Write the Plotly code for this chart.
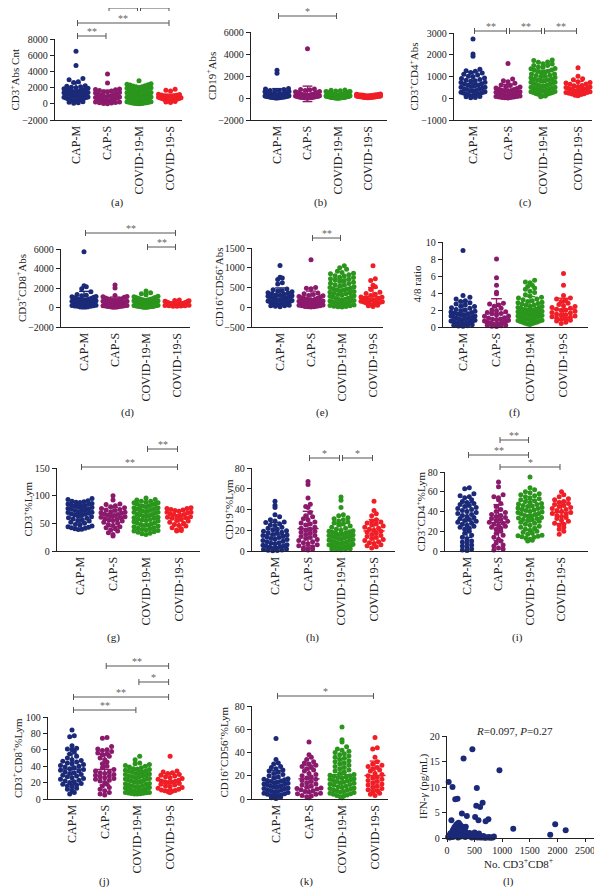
import statistics
import plotly.graph_objects as go

W, H = 602, 889          # page (screenshot) size
OFF = 8                  # browser body margin in front of the plot div
FW, FH = W - OFF, H - OFF
FONT = "Liberation Serif"

groups = ["CAP-M", "CAP-S", "COVID-19-M", "COVID-19-S"]
colors = ["#1b2a78", "#8c1a6c", "#2b961c", "#f01e26"]

# ---- data (one list per group) ----
a_capm = [6480, 4730, 3110, 2980, 2720, 2630, 2240, 2160, 2110, 2030, 1990, 1920, 1860, 1810, 1740, 1700, 1660,
          1590, 1550, 1480, 1460, 1390, 1350, 1310, 1240, 1220, 1170, 1120, 1080, 1030, 990, 940, 910, 850, 820,
          770, 720, 690, 630, 600, 540, 510, 450, 420, 360, 310, 260, 200, 140, 60]
a_caps = [3690, 2570, 1830, 1760, 1720, 1630, 1590, 1500, 1450, 1380, 1320, 1250, 1200, 1140, 1070, 1030, 960, 940,
          870, 840, 780, 750, 690, 670, 600, 580, 520, 490, 450, 400, 370, 310, 290, 230, 210, 160, 130, 90, 50, 20]
a_covm = [2860, 2470, 2420, 2340, 2310, 2230, 2200, 2120, 2090, 2010, 1980, 1920, 1890, 1830, 1800, 1740, 1710, 1650,
          1620, 1560, 1540, 1480, 1450, 1390, 1370, 1310, 1290, 1230, 1210, 1150, 1130, 1070, 1050, 990, 970, 910,
          890, 840, 820, 760, 740, 690, 670, 610, 600, 540, 520, 470, 450, 400, 380, 330, 310, 260, 250, 200, 190,
          140, 130, 90, 80, 50, 40, 20, 10]
a_covs = [1810, 1660, 1590, 1260, 1190, 1160, 1090, 1060, 990, 970, 910, 890, 830, 810, 760, 740, 690, 670, 620, 610,
          550, 540, 490, 480, 430, 420, 370, 360, 300, 280, 210, 150]

b_capm = [2520, 2260, 860, 810, 780, 690, 650, 630, 580, 560, 520, 510, 470, 460, 430, 420, 390, 380, 355, 340, 330,
          310, 300, 280, 275, 250, 245, 225, 215, 200, 190, 170, 160, 150, 135, 125, 110, 100, 90, 80, 70, 65, 55, 45,
          40, 30, 25, 15, 10, 5]
b_caps = [4470, 820, 770, 740, 680, 600, 570, 510, 490, 450, 430, 400, 360, 350, 320, 310, 280, 270, 240, 230, 210,
          200, 180, 170, 150, 140, 120, 110, 95, 85, 70, 65, 50, 45, 35, 30, 20, 15, 10, 5]
b_covm = [720, 700, 660, 640, 600, 590, 560, 540, 510, 500, 470, 460, 440, 430, 400, 390, 370, 360, 350, 330, 320, 300,
          295, 280, 270, 255, 250, 230, 225, 210, 200, 190, 180, 170, 165, 150, 145, 135, 130, 120, 110, 105, 100, 90,
          85, 75, 70, 65, 60, 50, 45, 40, 35, 30, 25, 20, 18, 15, 12, 10, 8, 6, 4, 3, 2]
b_covs = [360, 340, 325, 300, 290, 270, 260, 240, 230, 215, 210, 190, 185, 170, 160, 150, 145, 130, 125, 110, 105, 95,
          90, 80, 70, 65, 55, 50, 40, 35, 25, 20]

c_capm = [2720, 2040, 1930, 1330, 1270, 1240, 1180, 1160, 1100, 1070, 1010, 990, 930, 910, 860, 830, 800, 780, 730,
          720, 670, 660, 610, 600, 560, 540, 510, 500, 460, 440, 410, 400, 360, 350, 320, 300, 280, 260, 240, 220,
          200, 190, 160, 150, 120, 110, 80, 70, 40, 20]
c_caps = [1600, 880, 800, 760, 690, 610, 590, 530, 520, 470, 450, 410, 400, 370, 360, 330, 320, 300, 280, 275, 250,
          240, 220, 215, 190, 180, 160, 155, 130, 125, 110, 100, 85, 80, 60, 55, 40, 30, 20, 10]
c_covm = [1760, 1730, 1670, 1650, 1590, 1570, 1510, 1500, 1440, 1430, 1370, 1360, 1300, 1290, 1240, 1230, 1180, 1170,
          1120, 1110, 1060, 1050, 1000, 990, 950, 940, 890, 880, 840, 830, 790, 780, 740, 730, 690, 680, 640, 630,
          600, 590, 550, 540, 510, 500, 470, 460, 430, 420, 390, 380, 350, 340, 310, 300, 270, 260, 230, 220, 190,
          180, 150, 140, 110, 100, 70]
c_covs = [1400, 1010, 900, 850, 760, 720, 700, 650, 640, 590, 580, 530, 520, 490, 470, 450, 430, 410, 390, 370, 360,
          330, 320, 300, 270, 260, 230, 210, 190, 170, 140, 110]

d_capm = [5720, 2230, 2120, 1920, 1620, 1330, 1250, 1210, 1140, 1110, 1040, 1010, 950, 930, 870, 850, 800, 780, 740,
          710, 690, 650, 630, 590, 570, 550, 510, 500, 460, 450, 420, 400, 380, 360, 340, 330, 300, 280, 270, 240,
          230, 200, 190, 160, 140, 120, 100, 80, 60, 40]
d_caps = [2320, 2000, 1220, 1140, 1100, 1040, 980, 910, 880, 810, 790, 730, 710, 650, 630, 590, 570, 520, 510, 460,
          450, 400, 390, 350, 340, 300, 290, 250, 240, 210, 190, 170, 150, 130, 110, 90, 70, 50, 35, 20]
d_covm = [1680, 1520, 1420, 1300, 1150, 1110, 1060, 1020, 990, 950, 910, 890, 850, 830, 790, 770, 740, 730, 700, 690,
          660, 650, 620, 610, 580, 570, 540, 530, 510, 500, 480, 470, 450, 440, 420, 410, 390, 380, 360, 350, 330,
          320, 300, 290, 270, 260, 240, 230, 210, 200, 180, 170, 150, 140, 120, 110, 100, 90, 75, 65, 55, 45, 35, 25, 15]
d_covs = [760, 720, 700, 650, 630, 580, 560, 520, 510, 480, 470, 440, 430, 400, 390, 370, 360, 340, 330, 310, 300, 280,
          270, 250, 240, 220, 210, 190, 180, 160, 140, 120]

e_capm = [1060, 760, 740, 700, 620, 590, 460, 440, 420, 410, 390, 370, 360, 340, 330, 310, 305, 290, 280, 275, 260,
          250, 245, 230, 220, 215, 200, 195, 185, 180, 170, 160, 155, 145, 140, 130, 120, 115, 105, 100, 90, 80, 75,
          65, 60, 50, 40, 35, 25, 15]
e_caps = [1200, 500, 480, 470, 360, 340, 325, 300, 290, 270, 260, 240, 230, 220, 205, 195, 180, 175, 160, 155, 140,
          135, 125, 120, 110, 105, 95, 90, 80, 75, 65, 55, 50, 40, 35, 25, 20, 15, 10, 5]
e_covm = [1050, 1000, 960, 910, 880, 860, 850, 820, 800, 790, 760, 750, 720, 710, 690, 670, 650, 630, 610, 600, 570,
          560, 530, 520, 500, 490, 470, 460, 440, 430, 410, 400, 380, 370, 350, 340, 320, 310, 290, 280, 260, 250,
          230, 220, 200, 195, 180, 170, 160, 150, 135, 125, 115, 105, 95, 85, 75, 65, 55, 45, 35, 25, 18, 10, 5]
e_covs = [1050, 720, 680, 560, 520, 450, 380, 350, 330, 300, 290, 260, 250, 230, 225, 210, 195, 180, 175, 160, 150,
          140, 130, 120, 105, 95, 85, 75, 60, 50, 35, 20]

f_capm = [9.0, 3.7, 3.5, 3.3, 3.1, 3.0, 2.85, 2.7, 2.6, 2.45, 2.4, 2.25, 2.2, 2.05, 2.0, 1.9, 1.85, 1.75, 1.7, 1.65,
          1.55, 1.5, 1.45, 1.4, 1.3, 1.28, 1.2, 1.15, 1.1, 1.05, 1.0, 0.95, 0.9, 0.85, 0.8, 0.72, 0.7, 0.65, 0.6,
          0.52, 0.5, 0.45, 0.4, 0.35, 0.3, 0.26, 0.2, 0.15, 0.12, 0.08]
f_caps = [8.0, 5.8, 4.9, 4.1, 3.9, 2.8, 2.7, 2.6, 2.45, 2.2, 2.0, 1.9, 1.8, 1.7, 1.6, 1.55, 1.4, 1.3, 1.25, 1.1, 1.05,
          0.95, 0.9, 0.85, 0.8, 0.7, 0.68, 0.6, 0.55, 0.5, 0.45, 0.4, 0.38, 0.3, 0.28, 0.22, 0.2, 0.15, 0.1, 0.06]
f_covm = [5.5, 5.3, 5.2, 4.9, 4.75, 4.6, 4.45, 4.2, 4.05, 3.8, 3.65, 3.5, 3.4, 3.3, 3.2, 3.1, 3.0, 2.9, 2.85, 2.75,
          2.7, 2.6, 2.55, 2.45, 2.4, 2.3, 2.25, 2.2, 2.1, 2.05, 2.0, 1.95, 1.9, 1.85, 1.8, 1.75, 1.7, 1.65, 1.6, 1.55,
          1.5, 1.45, 1.4, 1.35, 1.3, 1.25, 1.2, 1.15, 1.1, 1.05, 1.0, 0.95, 0.9, 0.85, 0.8, 0.75, 0.7, 0.65, 0.6,
          0.55, 0.5, 0.45, 0.4, 0.35, 0.3]
f_covs = [6.3, 4.9, 3.7, 3.4, 3.3, 3.1, 3.0, 2.8, 2.65, 2.5, 2.4, 2.3, 2.2, 2.1, 2.0, 1.95, 1.85, 1.7, 1.65, 1.5,
          1.45, 1.4, 1.3, 1.2, 1.15, 1.05, 1.0, 0.9, 0.8, 0.7, 0.55, 0.4]

g_capm = [95, 93, 91, 90, 89, 88, 87.5, 86, 85, 84.5, 83, 82, 81.5, 80, 79, 78.5, 77, 76, 75.5, 74, 73, 72.5, 71, 70,
          69.5, 68, 67, 66.5, 65, 64, 63, 62, 60, 59, 58, 56, 55, 54, 52, 50, 48, 47, 45, 44, 43, 42, 41, 40, 39.5, 39]
g_caps = [100, 92, 85, 84, 82, 80, 78, 77, 75, 74, 73, 71, 70, 69, 68, 67, 66, 65, 64, 63, 62, 61, 60, 58, 57, 56,
          55, 54, 52, 50, 48, 46, 44, 42, 40, 38, 36, 33, 30, 27]
g_covm = [96, 93, 92, 90, 90, 88, 87, 87, 85, 85, 84, 82, 82, 81, 80, 78, 78, 77, 76, 75, 74, 73, 72, 71, 70, 70, 68,
          67, 66, 66, 64, 63, 63, 61, 60, 59, 58, 57, 56, 55, 54, 53, 51, 50, 49, 48, 47, 46, 45, 44, 42, 41, 40, 39,
          38, 37, 36, 35, 34, 32, 31, 30]
g_covs = [78, 77, 77, 75, 74, 73, 72, 70, 70, 69, 67, 66, 66, 64, 63, 62, 61, 60, 59, 57, 55, 54, 52, 50, 48, 46, 45,
          42, 40, 38, 37, 36]

h_capm = [48, 44, 42, 35, 33, 30, 29, 28, 27.5, 26, 25, 24.5, 23, 22, 21, 20.5, 19.5, 19, 18, 17.5, 17, 16, 15.5, 15,
          14, 13.5, 13, 12, 11.5, 11, 10, 9.5, 9, 8, 7.5, 7, 6, 5.5, 5, 4.5, 4, 3.5, 3, 2.5, 2, 1.5, 1, 0.8, 0.5, 0.3]
h_caps = [67, 64, 51, 45, 43, 42, 37, 34, 33, 31, 30, 28, 27, 26, 25, 23, 22, 21, 20, 19, 18, 17, 16, 15, 14, 13, 12,
          11, 10, 9, 8, 7, 6, 5, 4, 3, 2.5, 2, 1.5, 1]
h_covm = [52, 49, 42, 35, 34, 32, 31, 30, 29, 28, 27, 26, 25, 24, 23, 22, 21, 20, 19.5, 19, 18.5, 18, 17.5, 17, 16.5,
          16, 15.5, 15, 14.5, 14, 13.5, 13, 12.5, 12, 11.5, 11, 10.5, 10, 9.5, 9, 8.5, 8, 7.5, 7, 6.5, 6, 5.8, 5.5,
          5.2, 5, 4.8, 4.5, 4.2, 4, 3.8, 3.5, 3.2, 3, 2.8, 2.5, 2.2, 2, 1.8, 1.5, 1.2]
h_covs = [48, 39, 36, 34, 30, 29, 28, 27, 26, 25, 24, 23, 22, 21, 20, 19, 18, 17, 16, 15, 14, 13, 12, 11, 10, 9, 8, 7,
          6, 5, 4, 3]

i_capm = [64, 63, 58, 56, 55, 54, 52, 50, 49, 48, 47, 46, 45, 44, 43, 42, 41, 40, 39, 38, 37, 36, 35, 34, 33, 32, 31,
          30, 29, 28, 27, 26, 25, 24, 23, 22, 20, 18, 16, 14, 12, 10, 9, 8, 6, 5, 4, 2, 1, 0.5]
i_caps = [70, 65, 57, 55, 54, 52, 48, 45, 42, 40, 39, 37, 36, 35, 34, 33, 32, 31, 30, 29, 28, 27, 26, 25, 24, 23, 22,
          20, 18, 16, 14, 12, 10, 8, 6, 5, 3, 2, 1, -2]
i_covm = [75, 64, 62, 60, 59, 58, 57, 56, 55, 54, 53, 52, 51, 50, 49, 48, 47.5, 47, 46, 45.5, 45, 44, 43.5, 43, 42,
          41.5, 41, 40, 39.5, 39, 38, 37.5, 37, 36, 35.5, 35, 34, 33.5, 33, 32, 31.5, 31, 30, 29, 28, 27, 26, 25, 24,
          23, 22, 21, 20, 19, 18, 17, 16, 15.5, 15, 14.5, 14, 13, 12, 11, 10]
i_covs = [60, 57, 55, 53, 52, 50, 49, 48, 47, 46, 45, 44, 43, 42, 41, 40, 39, 38, 37, 36, 35, 34, 33, 31, 30, 28, 27,
          26, 24, 22, 20, 17]

j_capm = [84, 77, 76, 65, 62, 61, 60, 58, 55, 52, 50, 48, 47, 46, 45, 44, 43, 42, 41, 40, 39, 38, 37, 36, 35, 34, 33,
          32, 31, 30, 29, 28, 27, 26, 25, 24, 23, 22, 21, 20, 19, 18, 17, 16, 15, 13, 12, 10, 8, 6]
j_caps = [75, 74, 64, 61, 60, 59, 58, 56, 55, 54, 52, 50, 48, 45, 43, 40, 38, 36, 34, 33, 32, 31, 30, 29, 28, 27, 26,
          25, 24, 23, 22, 20, 18, 16, 14, 12, 10, 8, 6, 5]
j_covm = [52, 48, 44, 43, 42, 41, 40, 39, 38, 37, 36.5, 36, 35, 34.5, 34, 33, 32.5, 32, 31, 30.5, 30, 29, 28.5, 28, 27,
          26.5, 26, 25, 24.5, 24, 23, 22.5, 22, 21, 20.5, 20, 19, 18.5, 18, 17, 16.5, 16, 15, 14.5, 14, 13.5, 13, 12.5,
          12, 11.5, 11, 10.5, 10, 9.5, 9, 8.5, 8, 7.8, 7.5, 7.2, 7, 6.8, 6.5, 6.2, 6]
j_covs = [52, 34, 33, 32, 31, 30, 29, 28, 27, 26, 25, 24, 23, 22, 21.5, 21, 20.5, 20, 19, 18, 17, 16, 15, 14, 13, 12,
          11, 10.5, 10, 9, 8.5, 8]

k_capm = [52, 34, 31, 30, 28, 27, 26, 25, 24, 23, 22, 21, 20, 19, 18, 17.5, 17, 16.5, 16, 15.5, 15, 14.5, 14, 13.5, 13,
          12.5, 12, 11.5, 11, 10.5, 10, 9.5, 9, 8.5, 8, 7.5, 7, 6.5, 6, 5.5, 5, 4.5, 4, 3.5, 3, 2.5, 2, 1.5, 1, 0.5]
k_caps = [49, 38, 36, 34, 32, 31, 30, 29, 28, 27, 26, 25, 24, 22, 21, 20, 19, 18, 17, 16, 15, 14, 13, 12, 11, 10, 9.5,
          9, 8.5, 8, 7, 6.5, 6, 5, 4.5, 4, 3, 2.5, 2, 1]
k_covm = [62, 51, 49, 45, 43, 42, 41, 40, 39, 38, 37, 36, 35, 34, 33, 32, 31, 30, 29, 28, 27, 26, 25, 24, 23, 22, 21,
          20.5, 20, 19.5, 19, 18.5, 18, 17.5, 17, 16.5, 16, 15.5, 15, 14.5, 14, 13.5, 13, 12.5, 12, 11, 10.5, 10, 9.5,
          9, 8.5, 8, 7.5, 7, 6.5, 6, 5.5, 5, 4.5, 4, 3.5, 3, 2.5, 2, 1]
k_covs = [53, 44, 43, 36, 32, 30, 29, 28, 27, 26, 25, 24, 22, 21, 20, 19, 18, 17, 16, 15, 14, 13, 12, 11, 10, 9, 8, 7,
          6, 5, 4, 3]

# (l) IFN-gamma vs CD3+CD8+ count
l_x = [30, 100, 150, 190, 300, 460, 540, 950, 530, 600, 645, 270, 80, 360, 510, 570, 700, 750, 1200, 1870, 1960, 2150,
       20, 40, 60, 90, 110, 130, 150, 170, 190, 210, 230, 250, 270, 290, 310, 330, 350, 380, 400, 430, 460, 490, 520,
       560, 600, 640, 690, 730, 780, 830, 850, 50, 120, 160, 200, 240, 280, 320, 370, 420, 470, 550, 620, 680, 140,
       180, 220, 260, 300, 340, 410, 500, 580, 660, 760, 810, 100, 200, 250, 330, 450, 700]
l_y = [11.0, 10.0, 7.6, 7.7, 15.6, 17.4, 9.8, 13.3, 6.3, 6.1, 6.9, 4.8, 3.5, 4.3, 4.1, 3.5, 3.3, 3.7, 1.8, 0.65, 2.7,
       1.5, 0.2, 0.5, 0.9, 1.2, 1.6, 2.0, 2.3, 2.6, 2.8, 3.0, 2.7, 2.4, 2.2, 1.9, 1.6, 1.3, 1.0, 0.8, 0.6, 0.5, 0.4,
       0.3, 0.2, 0.2, 0.1, 0.1, 0.1, 0.1, 0.05, 0.1, 0.3, 0.1, 0.3, 0.4, 0.6, 0.9, 1.1, 0.8, 0.5, 0.3, 0.2, 0.1, 0.2,
       0.1, 1.0, 1.4, 1.8, 1.5, 1.2, 2.2, 1.0, 1.1, 0.9, 0.4, 0.2, 0.1, 0.2, 0.1, 0.3, 0.2, 0.1, 0.1]

# ---- panel geometry (pixels in the 602x889 page) ----
panels = [
    ("a", [a_capm, a_caps, a_covm, a_covs], "CD3<sup>+</sup>Abs Cnt",
     dict(left=55, right=182, top=39, bottom=120, cat0=76, sp=31.5, yr=(-2000, 8000), dtick=2000, tx=15, lx=117, ly=203)),
    ("b", [b_capm, b_caps, b_covm, b_covs], "CD19<sup>+</sup>Abs",
     dict(left=251, right=387, top=32, bottom=120, cat0=277, sp=30.5, yr=(-2000, 6000), dtick=2000, tx=211, lx=320, ly=203)),
    ("c", [c_capm, c_caps, c_covm, c_covs], "CD3<sup>+</sup>CD4<sup>+</sup>Abs",
     dict(left=454, right=592, top=33, bottom=120, cat0=473, sp=35, yr=(-1000, 3000), dtick=1000, tx=413, lx=525, ly=203)),
    ("d", [d_capm, d_caps, d_covm, d_covs], "CD3<sup>+</sup>CD8<sup>+</sup>Abs",
     dict(left=61, right=190, top=249, bottom=327, cat0=84, sp=31, yr=(-2000, 6000), dtick=2000, tx=21, lx=127, ly=412)),
    ("e", [e_capm, e_caps, e_covm, e_covs], "CD16<sup>+</sup>CD56<sup>+</sup>Abs",
     dict(left=252, right=383, top=248, bottom=327, cat0=280, sp=31, yr=(-500, 1500), dtick=500, tx=218, lx=322, ly=412)),
    ("f", [f_capm, f_caps, f_covm, f_covs], "4/8 ratio",
     dict(left=443, right=588, top=242, bottom=327, cat0=463, sp=33.5, yr=(0, 10), dtick=2, tx=416, lx=514, ly=412)),
    ("g", [g_capm, g_caps, g_covm, g_covs], "CD3<sup>+</sup>%Lym",
     dict(left=57, right=200, top=468, bottom=551, cat0=80, sp=33, yr=(0, 150), dtick=50, tx=27, lx=113, ly=637)),
    ("h", [h_capm, h_caps, h_covm, h_covs], "CD19<sup>+</sup>%Lym",
     dict(left=252, right=395, top=468, bottom=551, cat0=275, sp=33, yr=(0, 80), dtick=20, tx=228, lx=312, ly=637)),
    ("i", [i_capm, i_caps, i_covm, i_covs], "CD3<sup>+</sup>CD4<sup>+</sup>%Lym",
     dict(left=445, right=588, top=472, bottom=551, cat0=467, sp=31.5, yr=(0, 80), dtick=20, tx=420, lx=517, ly=637)),
    ("j", [j_capm, j_caps, j_covm, j_covs], "CD3<sup>+</sup>CD8<sup>+</sup>%Lym",
     dict(left=48, right=193, top=717, bottom=799, cat0=72, sp=32.7, yr=(0, 100), dtick=20, tx=17, lx=104, ly=881)),
    ("k", [k_capm, k_caps, k_covm, k_covs], "CD16<sup>+</sup>CD56<sup>+</sup>%Lym",
     dict(left=252, right=388, top=706, bottom=799, cat0=276, sp=33, yr=(0, 80), dtick=20, tx=223, lx=306, ly=881)),
]

# significance brackets: panel, group i, group j, y (px), label
brackets = [
    ("a", 1, 2, 8, "**"), ("a", 2, 3, 8, "**"), ("a", 0, 3, 23, "**"), ("a", 0, 1, 36, "**"),
    ("b", 0, 2, 16, "*"),
    ("c", 0, 1, 31, "**"), ("c", 1, 2, 31, "**"), ("c", 2, 3, 31, "**"),
    ("d", 0, 3, 233, "**"), ("d", 2, 3, 247, "**"),
    ("e", 1, 2, 238, "**"),
    ("g", 2, 3, 449, "**"), ("g", 0, 3, 467, "**"),
    ("h", 1, 2, 458, "*"), ("h", 2, 3, 458, "*"),
    ("i", 1, 2, 440, "**"), ("i", 0, 2, 455, "**"), ("i", 1, 3, 467, "*"),
    ("j", 1, 3, 666, "**"), ("j", 2, 3, 682, "*"), ("j", 0, 3, 697, "**"), ("j", 0, 2, 710, "**"),
    ("k", 0, 3, 696, "*"),
]


def fx(px):
    return (px - OFF) / FW


def fy(py):
    return 1 - (py - OFF) / FH


def swarm(vals, ppu, sp, dot=4.6, maxw=24.0):
    # GraphPad-like rows: points of similar value share a row and spread sideways
    order = sorted(range(len(vals)), key=lambda k: vals[k])
    rows = {}
    for k in order:
        rows.setdefault(int(round(vals[k] * ppu / dot)), []).append(k)
    off = [0.0] * len(vals)
    for members in rows.values():
        n = len(members)
        step = dot if n < 2 else min(dot, maxw / (n - 1))
        slots = sorted(range(n), key=lambda m: abs(m - (n - 1) / 2))
        for m, k in zip(slots, members):
            off[k] = (m - (n - 1) / 2) * step / sp
    return off


fig = go.Figure()
layout = {}
shapes = []
annotations = []
axis_of = {}

for n, (key, series, title, g) in enumerate(panels, start=1):
    xa = "x" if n == 1 else f"x{n}"
    ya = "y" if n == 1 else f"y{n}"
    axis_of[key] = (xa, g)
    ppu = (g["bottom"] - g["top"]) / (g["yr"][1] - g["yr"][0])
    for i, vals in enumerate(series):
        off = swarm(vals, ppu, g["sp"])
        fig.add_trace(go.Scatter(x=[i + o for o in off], y=vals, mode="markers",
                                 marker=dict(size=5, color=colors[i], line=dict(width=0)),
                                 xaxis=xa, yaxis=ya, cliponaxis=False, hoverinfo="skip"))
        m = statistics.mean(vals)
        s = statistics.stdev(vals)
        fig.add_trace(go.Scatter(
            x=[i - 0.32, i + 0.32, None, i, i, None, i - 0.16, i + 0.16, None, i - 0.16, i + 0.16],
            y=[m, m, None, m - s, m + s, None, m + s, m + s, None, m - s, m - s],
            mode="lines", line=dict(color=colors[i], width=1.4), xaxis=xa, yaxis=ya, hoverinfo="skip"))

    layout["xaxis" if n == 1 else f"xaxis{n}"] = dict(
        domain=[fx(g["left"]), fx(g["right"])],
        range=[(g["left"] - g["cat0"]) / g["sp"], (g["right"] - g["cat0"]) / g["sp"]],
        anchor=ya, tickmode="array", tickvals=[0, 1, 2, 3], ticktext=groups, tickangle=-90, automargin=False,
        showline=True, linecolor="#222", linewidth=1.3, ticks="", showgrid=False, zeroline=False,
        tickfont=dict(family=FONT, size=12, color="#222"), fixedrange=True)
    layout["yaxis" if n == 1 else f"yaxis{n}"] = dict(
        domain=[fy(g["bottom"]), fy(g["top"])], range=list(g["yr"]), anchor=xa, automargin=False,
        tick0=0, dtick=g["dtick"], tickformat="d", ticks="outside", ticklen=4, tickwidth=1, tickcolor="#222",
        showline=True, linecolor="#222", linewidth=1.3, showgrid=False, zeroline=False,
        tickfont=dict(family=FONT, size=10, color="#222"), fixedrange=True)

    annotations.append(dict(text=title, x=fx(g["tx"]), y=fy((g["top"] + g["bottom"]) / 2), xref="paper", yref="paper",
                            textangle=-90, showarrow=False, xanchor="center", yanchor="middle",
                            font=dict(family=FONT, size=11, color="#222")))
    annotations.append(dict(text=f"({key})", x=fx(g["lx"]), y=fy(g["ly"]), xref="paper", yref="paper",
                            showarrow=False, xanchor="center", yanchor="middle",
                            font=dict(family=FONT, size=11, color="#222")))

for key, i, j, ypx, label in brackets:
    xa, g = axis_of[key]
    s = 1.5 / g["sp"]
    x0, x1 = i + s, j - s
    for sh in [(x0, ypx, x1, ypx), (x0, ypx - 3, x0, ypx + 3), (x1, ypx - 3, x1, ypx + 3)]:
        shapes.append(dict(type="line", xref=xa, yref="paper", x0=sh[0], y0=fy(sh[1]), x1=sh[2], y1=fy(sh[3]),
                           line=dict(color="#555", width=1)))
    annotations.append(dict(text=label, x=(i + j) / 2, y=fy(ypx + 3), xref=xa, yref="paper", showarrow=False,
                            xanchor="center", yanchor="bottom", font=dict(family=FONT, size=10, color="#666")))

# ---- (l) scatter ----
fig.add_trace(go.Scatter(x=l_x, y=l_y, mode="markers", marker=dict(size=6, color=colors[0]),
                         xaxis="x12", yaxis="y12", cliponaxis=False, hoverinfo="skip"))
layout["xaxis12"] = dict(domain=[fx(447), fx(594)], range=[0, 2500 * (594 - 447) / (585 - 447)], anchor="y12",
                         tick0=0, dtick=500, tickformat="d", ticks="outside", ticklen=3, tickcolor="#222",
                         showline=True, linecolor="#222", linewidth=1.3, showgrid=False, zeroline=False,
                         automargin=False, tickfont=dict(family=FONT, size=10, color="#222"), fixedrange=True)
layout["yaxis12"] = dict(domain=[fy(838), fy(736)], range=[0, 20], anchor="x12", tick0=0, dtick=5,
                         ticks="outside", ticklen=4, tickcolor="#222", showline=True, linecolor="#222",
                         linewidth=1.3, showgrid=False, zeroline=False, automargin=False,
                         tickfont=dict(family=FONT, size=10, color="#222"), fixedrange=True)
annotations += [
    dict(text="<i>R</i>=0.097, <i>P</i>=0.27", x=fx(515), y=fy(731), xref="paper", yref="paper", showarrow=False,
         xanchor="center", yanchor="middle", font=dict(family=FONT, size=11, color="#222")),
    dict(text="No. CD3<sup>+</sup>CD8<sup>+</sup>", x=fx(518), y=fy(863), xref="paper", yref="paper",
         showarrow=False, xanchor="center", yanchor="middle", font=dict(family=FONT, size=11, color="#222")),
    dict(text="IFN-<i>γ</i> (pg/mL)", x=fx(423), y=fy(787), xref="paper", yref="paper", textangle=-90,
         showarrow=False, xanchor="center", yanchor="middle", font=dict(family=FONT, size=11, color="#222")),
    dict(text="(l)", x=fx(508), y=fy(881), xref="paper", yref="paper", showarrow=False,
         xanchor="center", yanchor="middle", font=dict(family=FONT, size=11, color="#222")),
]

fig.update_layout(template="none", width=FW, height=FH, margin=dict(l=0, r=0, t=0, b=0, pad=0), showlegend=False,
                  paper_bgcolor="white", plot_bgcolor="white", shapes=shapes, annotations=annotations,
                  font=dict(family=FONT), **layout)

fig.write_html("out.html")
